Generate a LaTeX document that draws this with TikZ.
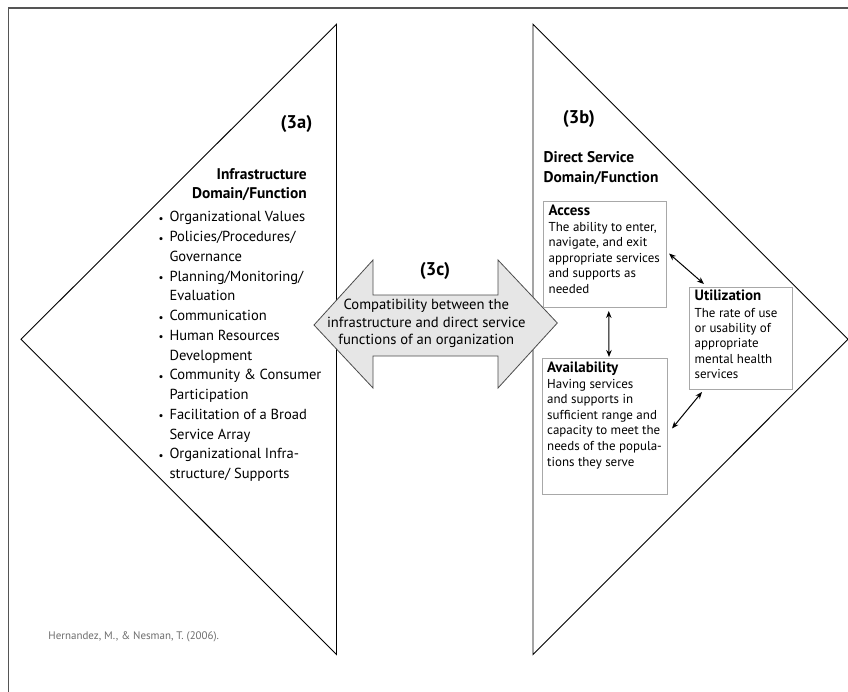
\documentclass[tikz,border=0pt]{standalone}
\usepackage{fontspec}
\setmainfont{PT Sans}
\usetikzlibrary{arrows.meta}
\definecolor{framegray}{HTML}{555555}
\definecolor{boxgray}{HTML}{A8A8A8}
\definecolor{arrowfill}{HTML}{E6E6E6}
\definecolor{citegray}{HTML}{6E6E6E}
\tikzset{
  tri/.style={draw=black, line width=0.9bp},
  box/.style={draw=boxgray, line width=1bp, fill=white, inner sep=0pt},
  lst/.style={font=\fontsize{14.6}{16}\selectfont, anchor=mid west, inner sep=0pt},
  bul/.style={font=\fontsize{11}{12}\selectfont, anchor=center, inner sep=0pt},
  head/.style={font=\bfseries\fontsize{15.5}{17}\selectfont, inner sep=0pt},
  lab/.style={font=\bfseries\fontsize{18.5}{20}\selectfont, inner sep=0pt},
  btitle/.style={font=\bfseries\fontsize{15}{16}\selectfont, anchor=mid west, inner sep=0pt},
  btext/.style={font=\fontsize{13}{15}\selectfont, anchor=mid west, inner sep=0pt},
  atext/.style={font=\fontsize{14.7}{16}\selectfont, anchor=mid, inner sep=0pt},
  dbl/.style={{Stealth[length=7bp,width=5.5bp]}-{Stealth[length=7bp,width=5.5bp]}, line width=1bp, black}
}
\begin{document}
\begin{tikzpicture}[x=1bp,y=-1bp]
\useasboundingbox (0,0) rectangle (848,692);
\fill[white] (0,0) rectangle (848,692);
% frame
\draw[framegray, line width=1.6bp] (8.3,692) -- (8.3,8.3) -- (848,8.3);
% triangles
\coordinate (LT) at (336.5,24.3);
\coordinate (LB) at (336.5,654.5);
\coordinate (LL) at (21,339.3);
\coordinate (RT) at (533,24.3);
\coordinate (RB) at (533,654.5);
\coordinate (RR) at (848,339.3);
\draw[tri] (LT) -- (LL) -- (LB) -- cycle;
\draw[tri] (RT) -- (RR) -- (RB) -- cycle;
% double arrow (3c)
\draw[draw=black!70, line width=0.8bp, fill=arrowfill]
  (314,325) -- (373,260) -- (373,295) -- (498,295) -- (498,260) -- (557.3,323)
  -- (498,388) -- (498,356) -- (373,356) -- (373,388) -- cycle;
\node[lab] (l3c) at (435,270.7) {(3c)};
\node[atext] (c1) at (426.3,307.3) {Compatibility between the};
\node[atext] (c2) at (426.3,325) {infrastructure and direct service};
\node[atext] (c3) at (426.3,341.7) {functions of an organization};
% left text
\node[lab, anchor=mid east] (l3a) at (312.5,126) {(3a)};
\node[head, anchor=mid east] (h1) at (307,177.4) {Infrastructure};
\node[head, anchor=mid east] (h2) at (307,196) {Domain/Function};
\foreach \t [count=\i from 0] in {Organizational Values,Policies/Procedures/,Governance,Planning/Monitoring/,Evaluation,Communication,Human Resources,Development,Community \& Consumer,Participation,Facilitation of a Broad,Service Array,Organizational Infra-,structure/ Supports}
  \node[lst] (li\i) at (169.3,219.3+\i*19.75) {\t};
\foreach \i in {0,1,3,5,6,8,10,12}
  \node[bul] (bu\i) at (161,219.8+\i*19.75) {\textbullet};
% right text
\node[lab, anchor=mid west] (l3b) at (562.7,121.5) {(3b)};
\node[head, anchor=mid west] (h3) at (543.5,160) {Direct Service};
\node[head, anchor=mid west] (h4) at (543.5,179.7) {Domain/Function};
% boxes
\node[box, anchor=north west, minimum width=122.5bp, minimum height=106bp] (acc) at (543,201) {};
\node[box, anchor=north west, minimum width=102.7bp, minimum height=102bp] (uti) at (689,287) {};
\node[box, anchor=north west, minimum width=125bp, minimum height=136bp] (ava) at (542,358) {};
% box texts
\node[btitle] (at) at (548.5,213) {Access};
\foreach \t [count=\i from 0] in {{The ability to enter,},{navigate, and exit},appropriate services,and supports as,needed}
  \node[btext] (ab\i) at (548.5,229+\i*15.5) {\t};
\node[btitle] (ut) at (694.5,298.3) {Utilization};
\foreach \t [count=\i from 0] in {The rate of use,or usability of,appropriate,mental health,services}
  \node[btext] (ub\i) at (694.5,314.6+\i*15.4) {\t};
\node[btitle] (vt) at (547,370) {Availability};
\foreach \t [count=\i from 0] in {Having services,and supports in,sufficient range and,capacity to meet the,needs of the popula-,tions they serve}
  \node[btext] (vb\i) at (547,385.7+\i*15.6) {\t};
% connectors
\draw[dbl] ([shift={(2.5,-1)}]acc.east) -- ([shift={(15,-3)}]uti.north west);
\draw[dbl] ([shift={(4,3)}]acc.south) -- ([shift={(4,-1)}]ava.north);
\draw[dbl] ([shift={(13,2)}]uti.south west) -- ([shift={(4,2)}]ava.east);
% citation
\node[font=\fontsize{11}{13}\selectfont, text=citegray, anchor=mid west, inner sep=0pt] (cite) at (48.3,637) {Hernandez, M., \& Nesman, T. (2006).};
\end{tikzpicture}
\end{document}
